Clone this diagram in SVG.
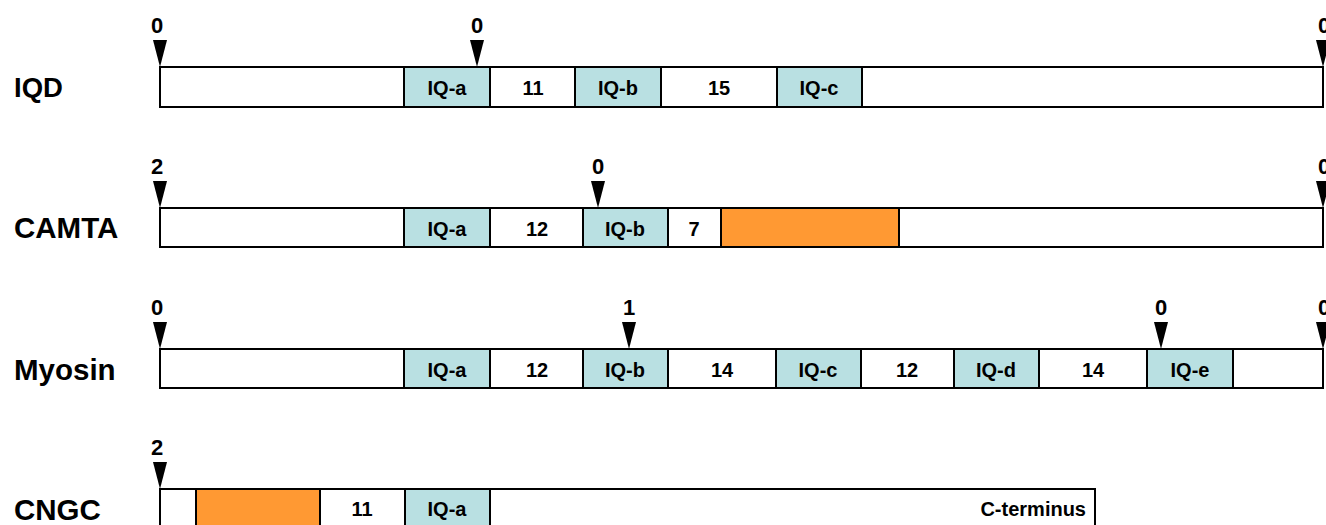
<svg xmlns="http://www.w3.org/2000/svg" width="1326" height="525" viewBox="0 0 1326 525">
<defs>
<style>
text{font-family:"Liberation Sans",Arial,sans-serif;font-weight:bold;fill:#000}
.name{font-size:29px}
.num{font-size:22px;text-anchor:middle}
.cell{font-size:20px;text-anchor:middle}
.bar{fill:#fff;stroke:#000;stroke-width:2}
.iq{fill:#b9e0e2;stroke:#000;stroke-width:2}
.or{fill:#ff9933;stroke:#000;stroke-width:2}
.arr{fill:#000}
</style>
</defs>
<rect width="1326" height="525" fill="#fff"/>

<g id="IQD">
<text class="name" x="14" y="97" style="font-size:27.5px">IQD</text>
<rect class="bar" x="160" y="67" width="1163" height="40"/>
<rect class="iq" x="404" y="67" width="86" height="40"/>
<rect class="iq" x="575" y="67" width="86" height="40"/>
<rect class="iq" x="777" y="67" width="85" height="40"/>
<text class="cell" x="447" y="95">IQ-a</text>
<text class="cell" x="533" y="95">11</text>
<text class="cell" x="618" y="95">IQ-b</text>
<text class="cell" x="719" y="95">15</text>
<text class="cell" x="819" y="95">IQ-c</text>
</g>

<g id="CAMTA">
<text class="name" x="14" y="238" style="font-size:29.5px">CAMTA</text>
<rect class="bar" x="160" y="208" width="1163" height="39"/>
<rect class="iq" x="404" y="208" width="86" height="39"/>
<rect class="iq" x="583" y="208" width="85" height="39"/>
<rect class="or" x="721" y="208" width="178" height="39"/>
<text class="cell" x="447" y="236">IQ-a</text>
<text class="cell" x="537" y="236">12</text>
<text class="cell" x="625" y="236">IQ-b</text>
<text class="cell" x="694" y="236">7</text>
</g>

<g id="Myosin">
<text class="name" x="14" y="380" style="font-size:29.5px">Myosin</text>
<rect class="bar" x="160" y="349" width="1163" height="39"/>
<rect class="iq" x="404" y="349" width="86" height="39"/>
<rect class="iq" x="583" y="349" width="85" height="39"/>
<rect class="iq" x="776" y="349" width="85" height="39"/>
<rect class="iq" x="954" y="349" width="85" height="39"/>
<rect class="iq" x="1147" y="349" width="86" height="39"/>
<text class="cell" x="447" y="377">IQ-a</text>
<text class="cell" x="537" y="377">12</text>
<text class="cell" x="625" y="377">IQ-b</text>
<text class="cell" x="722" y="377">14</text>
<text class="cell" x="818" y="377">IQ-c</text>
<text class="cell" x="907" y="377">12</text>
<text class="cell" x="996" y="377">IQ-d</text>
<text class="cell" x="1093" y="377">14</text>
<text class="cell" x="1190" y="377">IQ-e</text>
</g>

<g id="CNGC">
<text class="name" x="14" y="520" style="font-size:29.5px">CNGC</text>
<rect class="bar" x="160" y="489" width="935" height="45"/>
<rect class="or" x="196" y="489" width="124" height="45"/>
<rect class="iq" x="405" y="489" width="85" height="45"/>
<text class="cell" x="362" y="516">11</text>
<text class="cell" x="447" y="516">IQ-a</text>
<text x="1086" y="516" font-size="20" text-anchor="end">C-terminus</text>
</g>

<g id="connectors">
<path class="arr" d="M153,40 L167,40 L160,67 Z"/>
<path class="arr" d="M470,40 L484,40 L477,67 Z"/>
<path class="arr" d="M1316,40 L1330,40 L1323,67 Z"/>
<path class="arr" d="M153,181 L167,181 L160,208 Z"/>
<path class="arr" d="M591,181 L605,181 L598,208 Z"/>
<path class="arr" d="M1316,181 L1330,181 L1323,208 Z"/>
<path class="arr" d="M153,322 L167,322 L160,349 Z"/>
<path class="arr" d="M622,322 L636,322 L629,349 Z"/>
<path class="arr" d="M1154,322 L1168,322 L1161,349 Z"/>
<path class="arr" d="M1316,322 L1330,322 L1323,349 Z"/>
<path class="arr" d="M153,462 L167,462 L160,489 Z"/>
</g>

<g id="counts">
<text class="num" x="157" y="33">0</text>
<text class="num" x="477" y="33">0</text>
<text class="num" x="1324" y="33">0</text>
<text class="num" x="157" y="174">2</text>
<text class="num" x="598" y="174">0</text>
<text class="num" x="1324" y="174">0</text>
<text class="num" x="157" y="315">0</text>
<text class="num" x="629" y="315">1</text>
<text class="num" x="1161" y="315">0</text>
<text class="num" x="1324" y="315">0</text>
<text class="num" x="157" y="455">2</text>
</g>
</svg>
